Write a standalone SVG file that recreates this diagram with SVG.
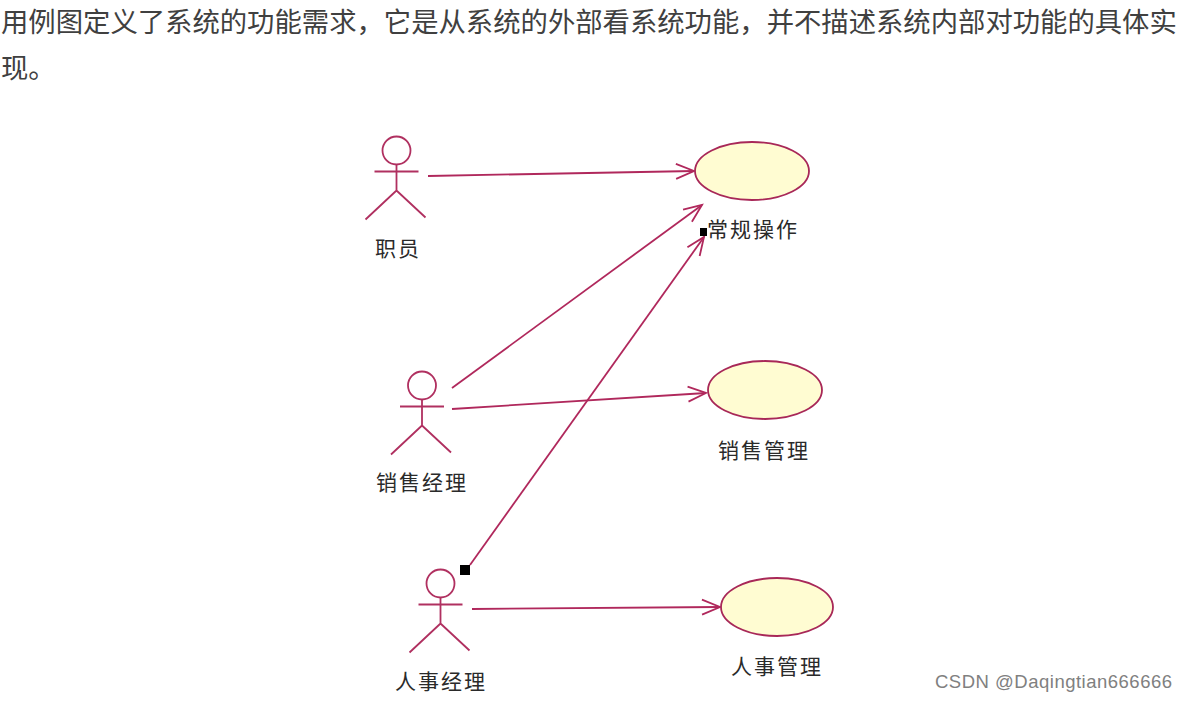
<svg xmlns="http://www.w3.org/2000/svg" width="1188" height="702" viewBox="0 0 1188 702">
<style>
.cjk{font-family:"Noto Sans CJK SC","Noto Sans CJK JP",sans-serif}
.para{font-size:27.35px;fill:#404040}
.lab{font-size:21px;fill:#2a2a2a;letter-spacing:2px}
.act{fill:none;stroke:#b03060;stroke-width:1.8}
.conn{fill:none;stroke:#b0285c;stroke-width:1.8}
.uc{fill:#fffcd2;stroke:#a82858;stroke-width:1.8}
.mark{fill:#000}
.wm{font-family:"Liberation Sans",Arial,sans-serif;font-size:18.5px;fill:#808080;letter-spacing:.5px}
</style>
<defs>
<marker id="arr" markerUnits="userSpaceOnUse" markerWidth="22" markerHeight="20" refX="19" refY="10" orient="auto">
<path d="M1 2.5L19 10L1 17.5" fill="none" stroke="#b0285c" stroke-width="1.8"/>
</marker>
<g id="actor" class="act">
<circle cx="0" cy="0" r="14"/>
<path d="M-22 21H22M0 14V40M0 40L-31 69M0 40L29 67"/>
</g>
</defs>
<rect width="1188" height="702" fill="#fff"/>
<g id="paragraph" class="cjk para">
<text x="1" y="32">用例图定义了系统的功能需求，它是从系统的外部看系统功能，并不描述系统内部对功能的具体实</text>
<text x="1" y="78">现。</text>
</g>
<g id="connectors">
<path class="conn" marker-end="url(#arr)" d="M428 176L694 171"/>
<path class="conn" marker-end="url(#arr)" d="M452 388L702 205"/>
<path class="conn" marker-end="url(#arr)" d="M452 409L706 393"/>
<path class="conn" marker-end="url(#arr)" d="M470 565L704 237"/>
<path class="conn" marker-end="url(#arr)" d="M472 609L720 607"/>
<rect class="mark" x="460" y="565" width="10" height="10"/>
<rect class="mark" x="700" y="228" width="7" height="8"/>
</g>
<g id="actor-staff"><use href="#actor" transform="translate(396.500 150.500)"/><text class="cjk lab" x="375" y="256">职员</text></g>
<g id="actor-sales"><use href="#actor" transform="translate(422 385.500)"/><text class="cjk lab" x="376" y="490">销售经理</text></g>
<g id="actor-hr"><use href="#actor" transform="translate(440.500 583.500)"/><text class="cjk lab" x="395" y="689">人事经理</text></g>
<g id="uc-ops"><ellipse class="uc" cx="752" cy="171" rx="57" ry="29"/><text class="cjk lab" x="707" y="237">常规操作</text></g>
<g id="uc-sales"><ellipse class="uc" cx="765" cy="390" rx="57" ry="29"/><text class="cjk lab" x="718" y="458">销售管理</text></g>
<g id="uc-hr"><ellipse class="uc" cx="777" cy="607" rx="56" ry="29"/><text class="cjk lab" x="731" y="674">人事管理</text></g>
<text class="wm" x="935" y="688">CSDN @Daqingtian666666</text>
</svg>
